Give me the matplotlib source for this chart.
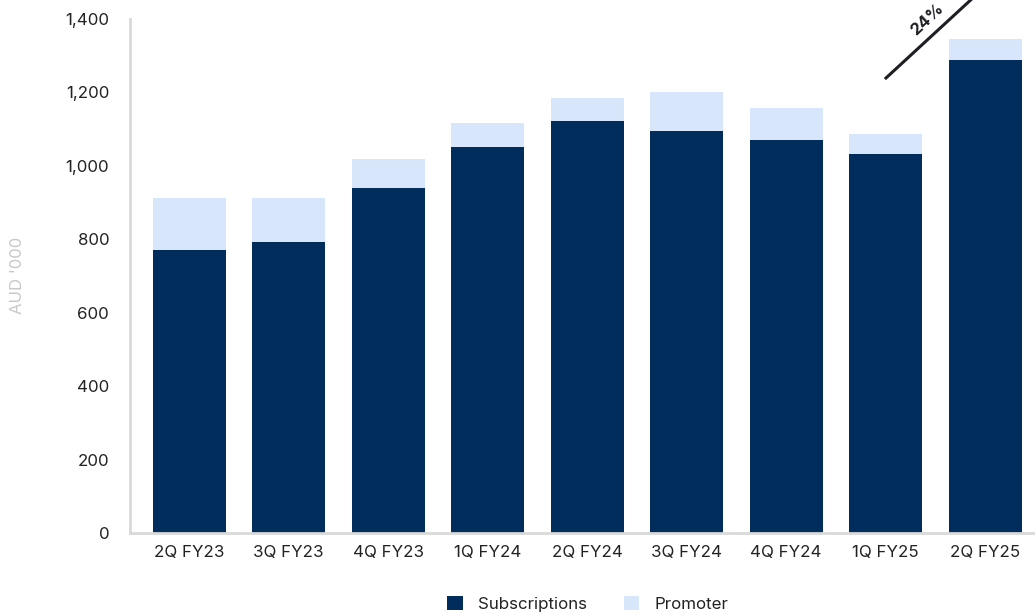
import matplotlib
matplotlib.use('Agg')
from matplotlib import pyplot as plt
from matplotlib.lines import Line2D
import numpy as np

plt.rcParams['font.family'] = ['Inter', 'DejaVu Sans']

quarters = ['2Q FY23', '3Q FY23', '4Q FY23', '1Q FY24', '2Q FY24',
            '3Q FY24', '4Q FY24', '1Q FY25', '2Q FY25']
subscriptions = [771, 793, 940, 1051, 1122, 1095, 1071, 1032, 1288]
promoter = [141, 119, 79, 66, 63, 106, 87, 55, 58]
growth_label = '24%'

navy = '#002D5C'
light = '#D8E6FC'
grey = '#D9D9D9'

fig = plt.figure(figsize=(10.35, 6.14), dpi=100)
ax = fig.add_axes([130/1035, 81/614, 1 - 130/1035, 514/614])

x = np.arange(len(quarters))
ax.bar(x, subscriptions, width=0.73, color=navy, label='Subscriptions')
ax.bar(x, promoter, width=0.73, bottom=subscriptions, color=light, label='Promoter')

ax.set_xlim(-0.595, len(quarters) - 0.5)
ax.set_ylim(0, 1400)
ax.set_yticks(np.arange(0, 1401, 200))
ax.yaxis.set_major_formatter(matplotlib.ticker.StrMethodFormatter('{x:,.0f}'))
ax.set_xticks(x)
ax.set_xticklabels(quarters)
ax.tick_params(axis='both', length=0, labelsize=12.2, colors='#222222')
ax.tick_params(axis='y', pad=15)
ax.tick_params(axis='x', pad=8.5)

for s in ['top', 'right']:
    ax.spines[s].set_visible(False)
for s in ['left', 'bottom']:
    ax.spines[s].set_color(grey)
    ax.spines[s].set_linewidth(2)

fig.text(18/1035, 1 - 275/614, "AUD '000", rotation=90, ha='center', va='center',
         fontsize=12, color='#C8C8C8')

# growth marker in the top right corner
fig.add_artist(Line2D([886/1035, 975/1035], [1 - 78/614, 1 + 4/614],
                      color='#1E1E24', linewidth=2.2, transform=fig.transFigure))
fig.text(927/1035, 1 - 19/614, growth_label, rotation=43, ha='center', va='center',
         fontsize=12, fontweight='bold', color='#1E1E24')

handles, labels = ax.get_legend_handles_labels()
fig.legend(handles, labels, loc='center', bbox_to_anchor=(588/1035, 1 - 604/614),
           ncol=2, frameon=False, fontsize=12.2, handlelength=0.9, handleheight=0.9,
           columnspacing=2.2, handletextpad=0.9, labelcolor='#222222')

fig.savefig('out.png', dpi=100)
